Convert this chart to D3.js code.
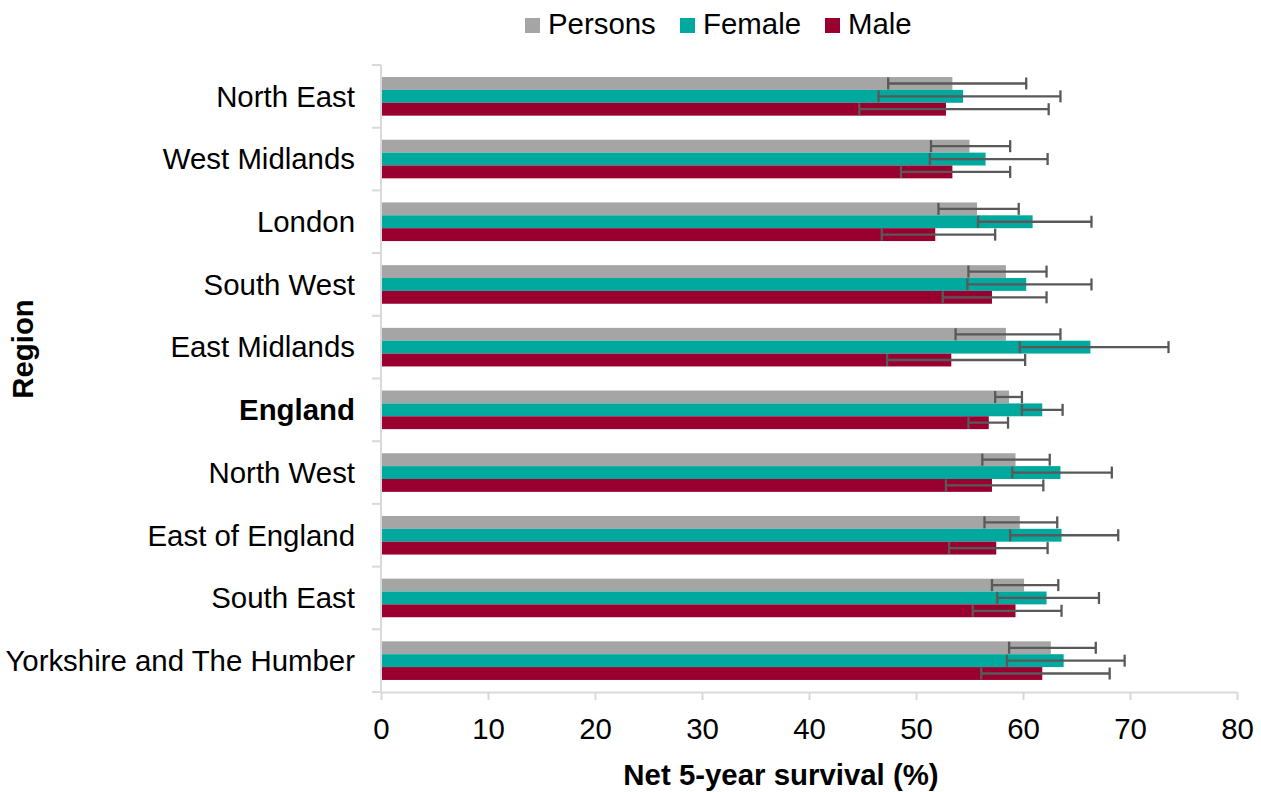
<!DOCTYPE html>
<html>
<head>
<meta charset="utf-8">
<script src="https://cdn.jsdelivr.net/npm/d3@7"></script>
<style>
  html, body { margin: 0; padding: 0; background: #ffffff; }
  svg { display: block; font-family: "Liberation Sans", Arial, sans-serif; }
</style>
</head>
<body>
<svg id="chart" width="1261" height="792"></svg>
<script>
// ---- data ----
const regions = ["North East", "West Midlands", "London", "South West", "East Midlands",
  "England", "North West", "East of England", "South East", "Yorkshire and The Humber"];
const seriesNames = ["Persons", "Female", "Male"];
const personsValues = [53.4, 55.0, 55.7, 58.4, 58.4, 58.7, 59.3, 59.7, 60.1, 62.6];
const personsLower  = [47.4, 51.4, 52.1, 54.9, 53.7, 57.4, 56.2, 56.4, 57.1, 58.7];
const personsUpper  = [60.3, 58.8, 59.6, 62.2, 63.5, 59.9, 62.5, 63.2, 63.3, 66.8];
const femaleValues  = [54.4, 56.5, 60.9, 60.3, 66.3, 61.8, 63.5, 63.6, 62.2, 63.8];
const femaleLower   = [46.5, 51.3, 55.8, 54.8, 59.7, 59.9, 59.0, 58.8, 57.6, 58.5];
const femaleUpper   = [63.5, 62.3, 66.4, 66.4, 73.6, 63.7, 68.3, 68.9, 67.1, 69.5];
const maleValues    = [52.8, 53.4, 51.8, 57.1, 53.3, 56.8, 57.1, 57.5, 59.3, 61.8];
const maleLower     = [44.7, 48.6, 46.8, 52.5, 47.3, 54.9, 52.8, 53.1, 55.3, 56.1];
const maleUpper     = [62.4, 58.8, 57.4, 62.2, 60.2, 58.6, 61.9, 62.3, 63.6, 68.1];
const xTicks = [0, 10, 20, 30, 40, 50, 60, 70, 80];
const boldRegions = ["England"];

// ---- layout ----
const svg = d3.select("#chart");
const colors = { Persons: "#a5a5a5", Female: "#00a99d", Male: "#990030" };
const axisColor = "#d9d9d9";
const errColor = "#595959";
const fontSize = 29.4;

const plot = { left: 381, right: 1237, top: 65, bottom: 692 };

const x = d3.scaleLinear().domain([0, 80]).range([plot.left, plot.right]);
const y = d3.scaleBand().domain(regions).range([plot.top, plot.bottom]).padding(0);
const groupH = 38.6;
const yInner = d3.scaleBand().domain(seriesNames).range([0, groupH]).padding(0);
const groupOffset = (y.bandwidth() - groupH) / 2;

const table = [];
regions.forEach((r, i) => {
  table.push({ region: r, series: "Persons", v: personsValues[i], lo: personsLower[i], hi: personsUpper[i] });
  table.push({ region: r, series: "Female", v: femaleValues[i], lo: femaleLower[i], hi: femaleUpper[i] });
  table.push({ region: r, series: "Male", v: maleValues[i], lo: maleLower[i], hi: maleUpper[i] });
});

// ---- bars ----
svg.append("g").selectAll("rect").data(table).join("rect")
  .attr("x", x(0))
  .attr("y", d => y(d.region) + groupOffset + yInner(d.series))
  .attr("width", d => x(d.v) - x(0))
  .attr("height", yInner.bandwidth())
  .attr("fill", d => colors[d.series]);

// ---- error bars ----
const capH = 12;
const eg = svg.append("g").attr("stroke", errColor).attr("stroke-width", 2.3);
table.forEach(d => {
  const cy = y(d.region) + groupOffset + yInner(d.series) + yInner.bandwidth() / 2;
  eg.append("line").attr("x1", x(d.lo)).attr("x2", x(d.hi)).attr("y1", cy).attr("y2", cy);
  eg.append("line").attr("x1", x(d.lo)).attr("x2", x(d.lo)).attr("y1", cy - capH / 2).attr("y2", cy + capH / 2);
  eg.append("line").attr("x1", x(d.hi)).attr("x2", x(d.hi)).attr("y1", cy - capH / 2).attr("y2", cy + capH / 2);
});

// ---- axes ----
const xAxis = d3.axisBottom(x).tickValues(xTicks).tickSize(8).tickPadding(18).tickSizeOuter(0);
const gx = svg.append("g").attr("transform", `translate(0,${plot.bottom})`).call(xAxis);
gx.select(".domain").attr("stroke", axisColor).attr("stroke-width", 2);
gx.selectAll(".tick line").attr("stroke", axisColor).attr("stroke-width", 2);
gx.selectAll(".tick text").attr("font-size", fontSize).attr("fill", "#000")
  .attr("font-family", "Liberation Sans, Arial, sans-serif");

// y axis line and boundary ticks
const yg = svg.append("g");
yg.append("line").attr("x1", plot.left).attr("x2", plot.left)
  .attr("y1", plot.top).attr("y2", plot.bottom)
  .attr("stroke", axisColor).attr("stroke-width", 2);
const bounds = regions.map(r => y(r)).concat([y(regions[regions.length - 1]) + y.bandwidth()]);
yg.selectAll("line.bt").data(bounds).join("line").attr("class", "bt")
  .attr("x1", plot.left - 9).attr("x2", plot.left)
  .attr("y1", d => d).attr("y2", d => d)
  .attr("stroke", axisColor).attr("stroke-width", 2);

// category labels
svg.append("g").selectAll("text").data(regions).join("text")
  .attr("x", 355)
  .attr("y", d => y(d) + y.bandwidth() / 2)
  .attr("dy", "0.35em")
  .attr("text-anchor", "end")
  .attr("font-size", fontSize)
  .attr("font-weight", d => boldRegions.includes(d) ? "bold" : "normal")
  .attr("fill", "#000")
  .text(d => d);

// axis titles
svg.append("text")
  .attr("x", 781).attr("y", 785)
  .attr("text-anchor", "middle")
  .attr("font-size", fontSize).attr("font-weight", "bold")
  .text("Net 5-year survival (%)");

svg.append("text")
  .attr("transform", "translate(33,349) rotate(-90)")
  .attr("text-anchor", "middle")
  .attr("font-size", fontSize).attr("font-weight", "bold")
  .text("Region");

// ---- legend ----
const legendX = [525, 680, 825];
const lg = svg.append("g");
seriesNames.forEach((s, i) => {
  lg.append("rect").attr("x", legendX[i]).attr("y", 18).attr("width", 15).attr("height", 15)
    .attr("fill", colors[s]);
  lg.append("text").attr("x", legendX[i] + 23).attr("y", 34)
    .attr("font-size", fontSize).attr("fill", "#000").text(s);
});
</script>
</body>
</html>
